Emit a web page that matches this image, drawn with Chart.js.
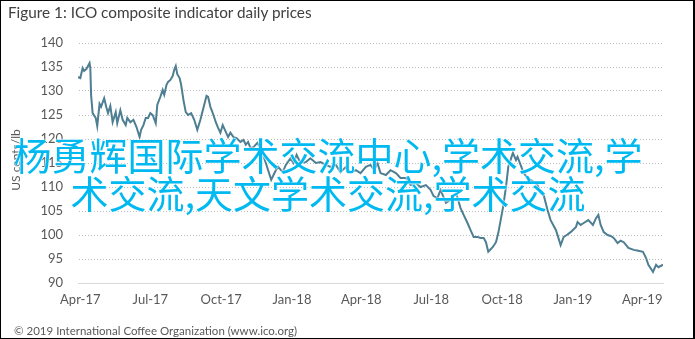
<!DOCTYPE html>
<html>
<head>
<meta charset="utf-8">
<script src="https://cdn.jsdelivr.net/npm/chart.js@4"></script>
<style>
  html, body { margin: 0; padding: 0; background: #fff; }
  #frame {
    position: relative; width: 695px; height: 339px; box-sizing: border-box;
    border: 1px solid #000; border-right-width: 2px; background: #fff; overflow: hidden;
  }
  .plot { position: absolute; left: 0; top: 0; width: 692px; height: 337px; }
  #title {
    position: absolute; left: 7px; top: 2px; font: 15.3px Lato, sans-serif; color: #404040; white-space: nowrap;
  }
  #ytitle {
    position: absolute; left: 14px; top: 159px; font: 12px Lato, sans-serif; color: #595959;
    transform: translate(-50%, -50%) rotate(-90deg); white-space: nowrap;
  }
  #source {
    position: absolute; left: 13px; top: 323px; font: 11.5px Lato, sans-serif; color: #595959; white-space: nowrap;
  }
  #overlay {
    position: absolute; left: 2px; top: 134px; width: 650px; text-align: center;
    font: 38px/38px "Noto Sans CJK SC", sans-serif; color: #00b9f1;
    text-shadow: 0 0 2px #fff, 0 0 2px #fff, 0 0 1px #fff;
  }
</style>
</head>
<body>
<div id="frame">
  <div class="plot"><canvas id="chart"></canvas></div>
  <div id="title">Figure 1: ICO composite indicator daily prices</div>
  <div id="ytitle">US cents/lb</div>
  <div id="source">© 2019 International Coffee Organization (www.ico.org)</div>
  <div id="overlay">杨勇辉国际学术交流中心,学术交流,学术交流,天文学术交流,学术交流</div>
</div>
<script>
// Days counted from 1 April 2017, with the composite indicator price (US cents/lb)
const days = [
  -3, 0, 3, 5, 8, 10, 12, 13, 14, 16, 20, 22, 25, 27, 31, 34, 36, 39, 42, 46,
  48, 52, 55, 59, 61, 65, 69, 73, 77, 79, 82, 85, 88, 91, 94, 98, 100, 104, 107, 109,
  112, 114, 117, 120, 122, 124, 126, 129, 131, 134, 137, 140, 144, 148, 152, 156, 160, 164, 166, 169,
  173, 176, 179, 182, 185, 189, 192, 195, 199, 203, 208, 212, 215, 218, 221, 225, 230, 234, 241, 244,
  248, 254, 257, 263, 267, 273, 277, 281, 286, 293, 299, 306, 312, 319, 325, 332, 338, 345, 351, 358,
  364, 371, 377, 382, 386, 390, 397, 403, 410, 416, 423, 429, 436, 442, 449, 455, 459, 464, 468, 475,
  481, 488, 494, 498, 503, 507, 511, 516, 520, 524, 527, 530, 536, 540, 543, 549, 553, 556, 562, 566,
  568, 572, 576, 581, 585, 590, 594, 598, 602, 607, 611, 618, 624, 628, 632, 637, 644, 646, 650, 654,
  660, 666, 670, 673, 676, 680, 685, 689, 693, 698, 702, 706, 712, 719, 725, 731, 735, 738, 744, 748,
  751, 757
];
const prices = [
  132.9, 132.7, 134.8, 134.2, 134.6, 135.2, 135.8, 134.8, 129.2, 125.4, 124.4, 122.7, 127.3, 126.7, 128.5, 126.5, 125.4, 126.9, 123.5, 125.6,
  123.3, 126.0, 124.0, 122.9, 124.4, 123.5, 124.0, 122.5, 120.4, 121.9, 122.9, 124.4, 124.4, 125.4, 125.0, 123.3, 127.1, 128.8, 130.2, 129.2,
  131.3, 131.9, 132.3, 133.1, 134.4, 135.2, 133.5, 132.7, 131.3, 128.1, 125.6, 125.0, 125.4, 124.0, 121.9, 124.0, 126.5, 129.0, 128.8, 126.7,
  125.0, 123.5, 122.3, 121.3, 122.9, 121.5, 120.4, 121.3, 120.4, 120.2, 119.4, 119.8, 118.8, 119.4, 118.1, 118.3, 119.2, 118.1, 115.0, 113.5,
  111.5, 113.5, 114.2, 113.1, 114.6, 116.0, 115.0, 116.7, 115.0, 115.2, 116.0, 115.0, 115.2, 114.6, 114.2, 114.6, 113.1, 114.2, 113.1, 113.5,
  112.9, 114.2, 114.6, 113.5, 115.0, 112.9, 112.5, 113.5, 112.9, 111.9, 111.9, 110.4, 110.8, 110.0, 110.4, 109.4, 108.1, 107.7, 109.4, 106.7,
  107.3, 108.8, 105.6, 104.2, 102.5, 101.0, 99.6, 99.6, 99.4, 99.4, 98.5, 96.5, 97.5, 98.5, 100.4, 105.6, 110.0, 114.2, 117.1, 115.6,
  116.3, 114.6, 112.9, 111.9, 111.5, 111.0, 110.4, 108.8, 108.3, 105.2, 103.1, 101.0, 97.9, 99.6, 100.0, 100.6, 101.7, 102.7, 102.1, 102.5,
  103.1, 102.1, 103.5, 104.2, 102.1, 100.6, 100.0, 99.8, 99.4, 98.3, 98.8, 98.5, 97.3, 96.9, 96.7, 96.5, 95.2, 93.8, 92.3, 93.8,
  93.3, 93.8
];

// Quarter marks along the date axis
const tickDays = [0, 91, 183, 275, 365, 456, 548, 640, 730];
const tickLabels = ['Apr-17', 'Jul-17', 'Oct-17', 'Jan-18', 'Apr-18', 'Jul-18', 'Oct-18', 'Jan-19', 'Apr-19'];

const yTicks = [90, 95, 100, 105, 110, 115, 120, 125, 130, 135, 140];

const textColor = '#595959';
const tickFont = { family: 'Lato, sans-serif', size: 13 };

new Chart(document.getElementById('chart'), {
  type: 'line',
  data: {
    datasets: [{
      label: 'ICO composite indicator',
      data: days.map((d, i) => ({ x: d, y: prices[i] })),
      borderColor: '#4d7e92',
      borderWidth: 2,
      pointRadius: 0,
      tension: 0,
      fill: false,
    }],
  },
  options: {
    responsive: true,
    maintainAspectRatio: false,
    animation: false,
    layout: { padding: { left: 0, top: 42, right: 30, bottom: 0 } },
    plugins: { legend: { display: false }, tooltip: { enabled: false } },
    scales: {
      x: {
        type: 'linear',
        min: -3,
        max: 757,
        afterBuildTicks(scale) { scale.ticks = tickDays.map((v) => ({ value: v })); },
        afterFit(scale) { scale.height = 55; },
        grid: { display: false, drawTicks: false },
        border: { display: true, color: '#d9d9d9', width: 1 },
        ticks: {
          color: textColor,
          font: tickFont,
          padding: 9,
          maxRotation: 0,
          autoSkip: false,
          callback(value, index) { return tickLabels[index]; },
        },
      },
      y: {
        min: 90,
        max: 140,
        afterBuildTicks(scale) { scale.ticks = yTicks.map((v) => ({ value: v })); },
        afterFit(scale) { scale.width = 77; },
        grid: {
          drawTicks: false,
          lineWidth: 1,
          // the 90 line is covered by the solid x-axis baseline
          color: (ctx) => (ctx.tick && ctx.tick.value === 90 ? 'rgba(0,0,0,0)' : '#bdbdbd'),
        },
        // dotted horizontal gridlines; the vertical axis line itself stays invisible
        border: { display: true, color: 'rgba(0,0,0,0)', dash: [1, 2] },
        ticks: { color: textColor, font: tickFont, padding: 15 },
      },
    },
  },
});
</script>
</body>
</html>
